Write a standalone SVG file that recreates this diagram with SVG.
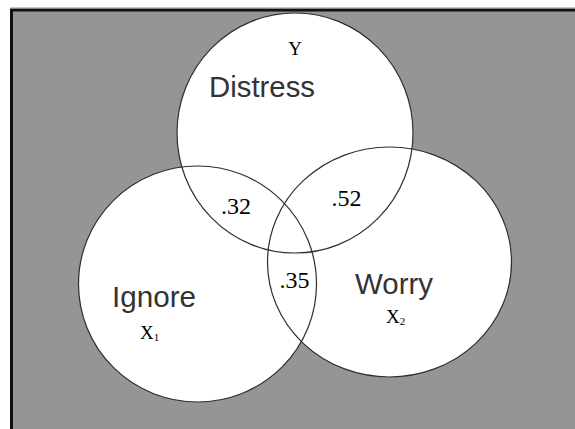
<svg xmlns="http://www.w3.org/2000/svg" width="575" height="429" viewBox="0 0 575 429">
  <style>
    .fill { fill: #ffffff; stroke: none; }
    .ring { fill: none; stroke: #2e2e2e; stroke-width: 1.2; }
    .name { font-family: "Liberation Sans", Arial, sans-serif; font-size: 29px; fill: #333333; }
    .sym { font-family: "Liberation Serif", "Times New Roman", serif; fill: #000000; }
    .num { font-family: "Liberation Serif", "Times New Roman", serif; font-size: 24px; fill: #000000; }
  </style>
  <rect x="0" y="0" width="575" height="429" fill="#ffffff"/>
  <line x1="10" y1="7.5" x2="575" y2="7.5" stroke="#c8c8c8" stroke-width="1"/>
  <rect x="10" y="9" width="570" height="430" fill="#959595"/>
  <path d="M11.5 429 V10 H575" fill="none" stroke="#111111" stroke-width="3"/>

  <g id="fills">
    <ellipse class="fill" cx="295" cy="133" rx="118" ry="120"/>
    <ellipse class="fill" cx="197.5" cy="284" rx="119" ry="118"/>
    <ellipse class="fill" cx="389.5" cy="262" rx="122" ry="115"/>
  </g>

  <g id="distress">
    <ellipse class="ring" cx="295" cy="133" rx="118" ry="120"/>
    <text class="sym" x="295" y="55" font-size="19" text-anchor="middle">Y</text>
    <text class="name" x="209" y="97" textLength="106" lengthAdjust="spacingAndGlyphs">Distress</text>
  </g>

  <g id="ignore">
    <ellipse class="ring" cx="197.5" cy="284" rx="119" ry="118"/>
    <text class="name" x="112" y="306.5" textLength="84" lengthAdjust="spacingAndGlyphs">Ignore</text>
    <text class="sym" x="140" y="338.5" font-size="19">X<tspan font-size="11" dy="2">1</tspan></text>
  </g>

  <g id="worry">
    <ellipse class="ring" cx="389.5" cy="262" rx="122" ry="115"/>
    <text class="name" x="355" y="294" textLength="78" lengthAdjust="spacingAndGlyphs">Worry</text>
    <text class="sym" x="386" y="323" font-size="19">X<tspan font-size="11" dy="2">2</tspan></text>
  </g>

  <g id="overlaps">
    <text class="num" x="221" y="214">.32</text>
    <text class="num" x="331.5" y="205.5">.52</text>
    <text class="num" x="279.5" y="288">.35</text>
  </g>
</svg>
